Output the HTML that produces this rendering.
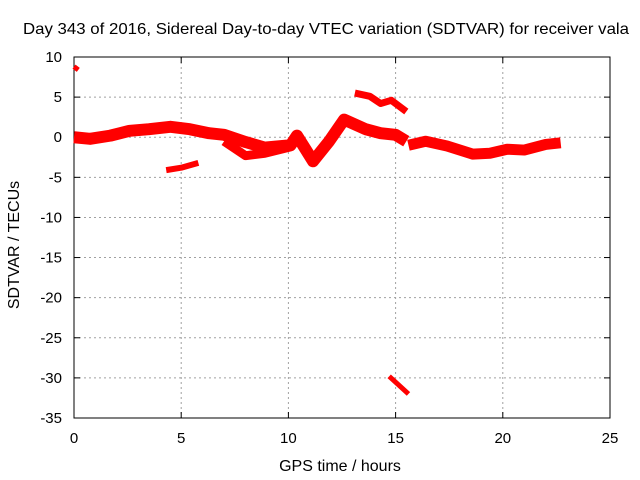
<!DOCTYPE html>
<html><head><meta charset="utf-8"><style>
body{margin:0;background:#fff;}
svg{display:block;font-family:"Liberation Sans",sans-serif;}
</style></head><body>
<svg id="c" width="640" height="480"></svg>
<script>
const xTicks=[0,5,10,15,20,25];
const yTicks=[10,5,0,-5,-10,-15,-20,-25,-30,-35];
const mainHours=[0,0.75,1.7,2.6,3.5,4.5,5.4,6.3,7.0,8.0,8.9,10.1,10.4,10.8,11.15,11.9,12.6,13.6,14.3,15.0,15.5];
const mainValues=[0,-0.2,0.2,0.8,1.0,1.3,1.0,0.5,0.3,-0.6,-1.3,-1.0,0.2,-1.5,-3.0,-0.5,2.2,1.0,0.5,0.3,-0.5];
const branchHours=[7.0,8.0,8.9,10.1];
const branchValues=[-0.5,-2.3,-2.0,-1.2];
const lateHours=[15.6,16.4,17.4,18.6,19.4,20.2,21.0,22.0,22.7];
const lateValues=[-1.0,-0.5,-1.1,-2.1,-2.0,-1.5,-1.6,-0.9,-0.7];
const shortHours=[4.3,5.0,5.8];
const shortValues=[-4.1,-3.8,-3.2];
const arcHours=[13.1,13.8,14.3,14.8,15.5];
const arcValues=[5.5,5.1,4.2,4.6,3.2];
const topHours=[0,0.2];
const topValues=[8.8,8.4];
const lowHours=[14.7,15.6];
const lowValues=[-29.8,-32.0];
const L=74,R=610,T=57,B=418;
const xs=h=>L+(h-0)/25*(R-L);
const ys=v=>T+(10-v)/45*(B-T);
const svg=document.getElementById('c');
const NS='http://www.w3.org/2000/svg';
function mk(tag,attrs,parent){const e=document.createElementNS(NS,tag);for(const k in attrs)e.setAttribute(k,attrs[k]);(parent||svg).appendChild(e);return e;}
xTicks.forEach(t=>{const g=mk('line',{x1:xs(t),x2:xs(t),y1:T,y2:B,stroke:'#a0a0a0','stroke-dasharray':'2,3'});


const l=mk('text',{x:xs(t),y:B+25,'text-anchor':'middle','font-size':15});l.textContent=t;


mk('line',{x1:xs(t),x2:xs(t),y1:B,y2:B-6,stroke:'#000'});mk('line',{x1:xs(t),x2:xs(t),y1:T,y2:T+6,stroke:'#000'});});
yTicks.forEach(t=>{const g=mk('line',{x1:L,x2:R,y1:ys(t),y2:ys(t),stroke:'#a0a0a0','stroke-dasharray':'2,3'});


const l=mk('text',{x:L-12,y:ys(t)+5,'text-anchor':'end','font-size':15});l.textContent=t;


mk('line',{x1:L,x2:L+6,y1:ys(t),y2:ys(t),stroke:'#000'});mk('line',{x1:R,x2:R-6,y1:ys(t),y2:ys(t),stroke:'#000'});});
const fr=mk('rect',{x:L,y:T,width:R-L,height:B-T,fill:'none',stroke:'#000'});


function series(hs,vs,w,name){const p=mk('polyline',{points:hs.map((h,i)=>xs(h)+','+ys(vs[i])).join(' '),fill:'none',stroke:'#f00','stroke-width':w,'stroke-linejoin':'round','stroke-linecap':'butt'});

}
series(mainHours,mainValues,12,'series-main');
series(branchHours,branchValues,9,'series-branch');
series(lateHours,lateValues,11,'series-late');
series(shortHours,shortValues,6,'series-short');
series(arcHours,arcValues,7,'series-arc');
series(topHours,topValues,5,'series-top');
series(lowHours,lowValues,5,'series-low');
const tt=mk('text',{x:326,y:34,'text-anchor':'middle','font-size':16,textLength:606,lengthAdjust:'spacingAndGlyphs'});tt.textContent='Day 343 of 2016, Sidereal Day-to-day VTEC variation (SDTVAR) for receiver vala';


const xt=mk('text',{x:340,y:471,'text-anchor':'middle','font-size':16});xt.textContent='GPS time / hours';


const yt=mk('text',{x:19,y:245,'text-anchor':'middle','font-size':16,transform:'rotate(-90 19 245)'});yt.textContent='SDTVAR / TECUs';


</script>
</body></html>
